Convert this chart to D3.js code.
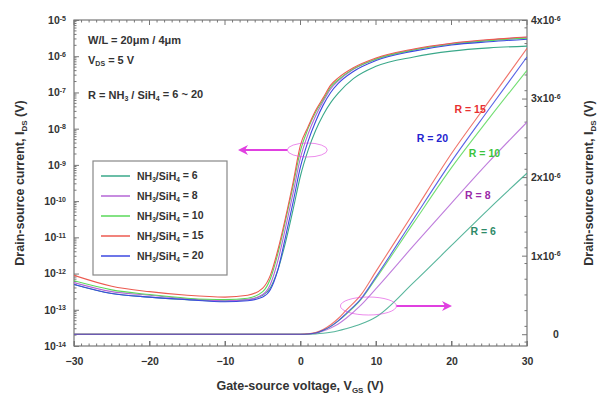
<!DOCTYPE html>
<html>
<head>
<meta charset="utf-8">
<script src="https://d3js.org/d3.v7.min.js"></script>
<style>
  body { margin: 0; background: #fff; }
  text { font-family: "Liberation Sans", Arial, sans-serif; font-weight: bold; fill: #333; }
</style>
</head>
<body>
<script>
// gate voltage grid for the log (left axis) curves
var vgsLog = [-30, -25, -20, -15, -10, -7, -5, -4, -3, -2, -1, 0, 1, 2, 3, 4, 5, 7, 10, 15, 20, 25, 30];
// log10(Ids)
var logR6  = [-12.3, -12.55, -12.65, -12.72, -12.76, -12.72, -12.6, -12.4, -11.9, -11.15, -10.25, -9.3, -8.6, -8.05, -7.62, -7.28, -7.02, -6.62, -6.28, -6.02, -5.86, -5.77, -5.72];
var logR8  = [-12.25, -12.5, -12.6, -12.7, -12.75, -12.72, -12.58, -12.3, -11.65, -10.75, -9.8, -8.8, -8.15, -7.65, -7.25, -6.9, -6.68, -6.36, -6.08, -5.82, -5.65, -5.55, -5.48];
var logR10 = [-12.2, -12.45, -12.58, -12.68, -12.72, -12.68, -12.5, -12.15, -11.45, -10.55, -9.6, -8.6, -8.0, -7.55, -7.2, -6.85, -6.65, -6.35, -6.08, -5.83, -5.67, -5.57, -5.5];
var logR15 = [-12.05, -12.35, -12.5, -12.6, -12.65, -12.6, -12.4, -12.05, -11.35, -10.47, -9.5, -8.45, -7.95, -7.5, -7.15, -6.8, -6.6, -6.32, -6.05, -5.8, -5.64, -5.54, -5.47];
var logR20 = [-12.3, -12.55, -12.65, -12.72, -12.78, -12.75, -12.65, -12.45, -11.9, -11.0, -10.05, -9.05, -8.35, -7.8, -7.35, -7.0, -6.75, -6.42, -6.12, -5.86, -5.69, -5.6, -5.53];

// gate voltage grid for the linear (right axis) curves, Ids in uA
var vgsLin = [-30, 0, 1, 2, 3, 4, 5, 6, 8, 10, 15, 20, 25, 30];
var linR6  = [0, 0, 0.001, 0.004, 0.012, 0.025, 0.045, 0.07, 0.13, 0.22, 0.66, 1.13, 1.6, 2.05];
var linR8  = [0, 0, 0.003, 0.012, 0.04, 0.08, 0.13, 0.2, 0.37, 0.58, 1.13, 1.67, 2.2, 2.7];
var linR10 = [0, 0, 0.003, 0.015, 0.05, 0.1, 0.17, 0.25, 0.44, 0.71, 1.42, 2.12, 2.75, 3.36];
var linR15 = [0, 0, 0.005, 0.02, 0.06, 0.12, 0.2, 0.3, 0.5, 0.8, 1.55, 2.3, 2.97, 3.64];
var linR20 = [0, 0, 0.003, 0.015, 0.05, 0.1, 0.17, 0.26, 0.45, 0.73, 1.47, 2.2, 2.87, 3.53];

var ratios = ["6", "8", "10", "15", "20"];
var lineColors = ["#3aa88a", "#b466d6", "#5ad85a", "#ec5a50", "#3c48e0"];
var labelColors = ["#2e8a68", "#9a2aa8", "#3cc43c", "#e83030", "#2424d0"];

var xTicks = [-30, -20, -10, 0, 10, 20, 30];
var logTicks = [-5, -6, -7, -8, -9, -10, -11, -12, -13, -14];
var linTicks = [0, 1, 2, 3, 4];

// label positions: [Vgs, Ids in uA]
var rLabelPos = [[22.5, 1.26], [21.8, 1.72], [22.3, 2.25], [20.4, 2.82], [15.4, 2.45]];

var W = 610, H = 397;
var pL = 74, pR = 527, pT = 20, pB = 346;

var svg = d3.select("body").append("svg").attr("width", W).attr("height", H);
svg.append("rect").attr("width", W).attr("height", H).attr("fill", "#fff");

var x = d3.scaleLinear().domain([-30, 30]).range([pL, pR]);
var yLog = d3.scaleLog().domain([1e-14, 1e-5]).range([pB, pT]);
var yLin = d3.scaleLinear().domain([-0.15e-6, 4e-6]).range([pB, pT]);

var tickCol = "#777";

// minor ticks
var gMinor = svg.append("g").attr("stroke", tickCol).attr("stroke-width", 1);
d3.range(-30, 31).forEach(function (v) {
    var len = v % 10 === 0 ? 5 : 2.5;
    gMinor.append("line").attr("x1", x(v)).attr("x2", x(v)).attr("y1", pB).attr("y2", pB - len);
    gMinor.append("line").attr("x1", x(v)).attr("x2", x(v)).attr("y1", pT).attr("y2", pT + len);
});
for (var e = -14; e < -5; e++) {
    for (var m = 2; m < 10; m++) {
        var yy = yLog(m * Math.pow(10, e));
        gMinor.append("line").attr("x1", pL).attr("x2", pL + 2.5).attr("y1", yy).attr("y2", yy);
    }
}
d3.range(-0.1, 4.01, 0.2).forEach(function (v) {
    var yy = yLin(v * 1e-6);
    if (yy > pB) return;
    gMinor.append("line").attr("x1", pR).attr("x2", pR - 2.5).attr("y1", yy).attr("y2", yy);
});

// frame
svg.append("rect").attr("x", pL).attr("y", pT).attr("width", pR - pL).attr("height", pB - pT)
    .attr("fill", "none").attr("stroke", tickCol).attr("stroke-width", 1.2);

// axes
var xAxis = svg.append("g").attr("transform", "translate(0," + pB + ")")
    .call(d3.axisBottom(x).tickValues(xTicks).tickSizeInner(-5).tickSizeOuter(0).tickPadding(12));
var yAxisL = svg.append("g").attr("transform", "translate(" + pL + ",0)")
    .call(d3.axisLeft(yLog).tickValues(logTicks.map(function (d) { return Math.pow(10, d); }))
        .tickSizeInner(-5).tickSizeOuter(0).tickPadding(8).tickFormat(""));
var yAxisR = svg.append("g").attr("transform", "translate(" + pR + ",0)")
    .call(d3.axisRight(yLin).tickValues(linTicks.map(function (d) { return d * 1e-6; }))
        .tickSizeInner(-5).tickSizeOuter(0).tickPadding(4).tickFormat(""));

[xAxis, yAxisL, yAxisR].forEach(function (g) {
    g.select(".domain").remove();
    g.selectAll("line").attr("stroke", tickCol);
    g.selectAll("text").attr("font-size", 10.5).attr("font-family", null).attr("fill", "#333");
});

yAxisL.selectAll(".tick text").each(function (d, i) {
    var t = d3.select(this);
    t.text("10");
    t.append("tspan").attr("font-size", 7).attr("dy", "-0.45em").text(logTicks[i]);
});
yAxisR.selectAll(".tick text").each(function (d, i) {
    var t = d3.select(this);
    if (linTicks[i] === 0) { t.text("0").attr("x", 26); return; }
    t.text(linTicks[i] + "x10");
    t.append("tspan").attr("font-size", 7).attr("dy", "-0.45em").text("-6");
});

// curves
svg.append("clipPath").attr("id", "clip").append("rect")
    .attr("x", pL).attr("y", pT).attr("width", pR - pL).attr("height", pB - pT);
var plot = svg.append("g").attr("clip-path", "url(#clip)");

var logLine = d3.line().curve(d3.curveMonotoneX)
    .x(function (d) { return x(d[0]); }).y(function (d) { return yLog(Math.pow(10, d[1])); });
var linLine = d3.line().curve(d3.curveMonotoneX)
    .x(function (d) { return x(d[0]); }).y(function (d) { return yLin(d[1] * 1e-6); });

var logSeries = [logR6, logR8, logR10, logR15, logR20];
var linSeries = [linR6, linR8, linR10, linR15, linR20];

logSeries.forEach(function (s, i) {
    plot.append("path").datum(vgsLog.map(function (v, j) { return [v, s[j]]; }))
        .attr("d", logLine).attr("fill", "none").attr("stroke", lineColors[i]).attr("stroke-width", 1.1);
});
linSeries.forEach(function (s, i) {
    plot.append("path").datum(vgsLin.map(function (v, j) { return [v, s[j]]; }))
        .attr("d", linLine).attr("fill", "none").attr("stroke", lineColors[i]).attr("stroke-width", 1.1)
        .attr("stroke-opacity", 0.85);
});

// R labels
ratios.forEach(function (r, i) {
    svg.append("text").attr("x", x(rLabelPos[i][0])).attr("y", yLin(rLabelPos[i][1] * 1e-6))
        .attr("font-size", 10.5).style("fill", labelColors[i]).text("R = " + r);
});

// annotations
var fs = 11;
svg.append("text").attr("x", 88).attr("y", 44).attr("font-size", fs).text("W/L = 20\u03bcm / 4\u03bcm");
var t2 = svg.append("text").attr("x", 88).attr("y", 64).attr("font-size", fs);
t2.append("tspan").text("V");
t2.append("tspan").attr("font-size", 7).attr("dy", "0.35em").text("DS");
t2.append("tspan").attr("dy", "-0.25em").text(" = 5 V");
var t3 = svg.append("text").attr("x", 88).attr("y", 99).attr("font-size", fs);
t3.append("tspan").text("R = NH");
t3.append("tspan").attr("font-size", 7).attr("dy", "0.35em").text("3");
t3.append("tspan").attr("dy", "-0.25em").text(" / SiH");
t3.append("tspan").attr("font-size", 7).attr("dy", "0.35em").text("4");
t3.append("tspan").attr("dy", "-0.25em").text(" = 6 ~ 20");

// legend
svg.append("rect").attr("x", 93).attr("y", 161).attr("width", 134).attr("height", 114)
    .attr("fill", "#fff").attr("stroke", "#888").attr("stroke-width", 1.2);
ratios.forEach(function (r, i) {
    var ly = 176 + i * 20;
    svg.append("line").attr("x1", 101).attr("x2", 130).attr("y1", ly).attr("y2", ly)
        .attr("stroke", lineColors[i]).attr("stroke-width", 1.5);
    var t = svg.append("text").attr("x", 137).attr("y", ly + 4).attr("font-size", 10.5);
    t.append("tspan").text("NH");
    t.append("tspan").attr("font-size", 6.5).attr("dy", "0.35em").text("3");
    t.append("tspan").attr("dy", "-0.25em").text("/SiH");
    t.append("tspan").attr("font-size", 6.5).attr("dy", "0.35em").text("4");
    t.append("tspan").attr("dy", "-0.25em").text(" = " + r);
});

// arrows and ellipses
var mag = "#e040e0";
svg.append("defs").append("marker").attr("id", "ah").attr("viewBox", "0 0 10 10")
    .attr("refX", 8).attr("refY", 5).attr("markerWidth", 5).attr("markerHeight", 5)
    .attr("orient", "auto-start-reverse").attr("markerUnits", "strokeWidth")
    .append("path").attr("d", "M0,0 L10,5 L0,10 L3,5 Z").attr("fill", mag);
svg.append("ellipse").attr("cx", x(0.9)).attr("cy", 150).attr("rx", 20).attr("ry", 7)
    .attr("fill", "none").attr("stroke", mag).attr("stroke-opacity", 0.6).attr("stroke-width", 1);
svg.append("line").attr("x1", x(0.9) - 20).attr("x2", 240).attr("y1", 150).attr("y2", 150)
    .attr("stroke", mag).attr("stroke-width", 2).attr("marker-end", "url(#ah)");
svg.append("ellipse").attr("cx", x(9)).attr("cy", 306).attr("rx", 28).attr("ry", 9)
    .attr("fill", "none").attr("stroke", mag).attr("stroke-opacity", 0.6).attr("stroke-width", 1);
svg.append("line").attr("x1", x(9) + 28).attr("x2", 450).attr("y1", 306).attr("y2", 306)
    .attr("stroke", mag).attr("stroke-width", 2).attr("marker-end", "url(#ah)");

// axis titles
function yTitle(cx) {
    var t = svg.append("text").attr("transform", "translate(" + cx + ",183) rotate(-90)")
        .attr("text-anchor", "middle").attr("font-size", 12.5);
    t.append("tspan").text("Drain-source current, I");
    t.append("tspan").attr("font-size", 8).attr("dy", "0.35em").text("DS");
    t.append("tspan").attr("dy", "-0.25em").text(" (V)");
}
yTitle(24);
yTitle(593);
var xt = svg.append("text").attr("x", 300).attr("y", 390).attr("text-anchor", "middle").attr("font-size", 12.5);
xt.append("tspan").text("Gate-source voltage, V");
xt.append("tspan").attr("font-size", 8).attr("dy", "0.35em").text("GS");
xt.append("tspan").attr("dy", "-0.25em").text(" (V)");
</script>
</body>
</html>
